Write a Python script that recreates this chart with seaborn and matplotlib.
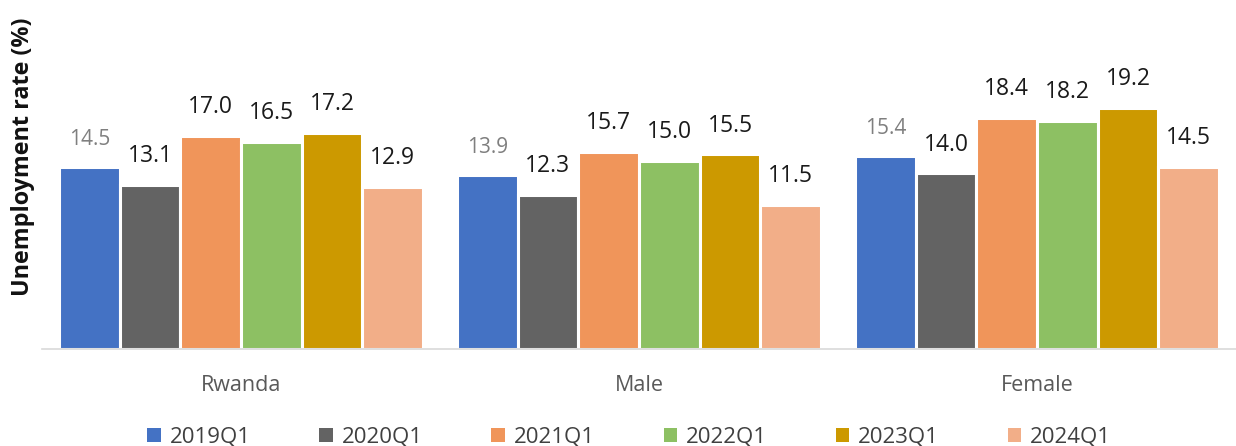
import matplotlib
matplotlib.use("Agg")
import matplotlib.pyplot as plt
import seaborn as sns
import pandas as pd
from matplotlib.patches import Patch

groups = ["Rwanda", "Male", "Female"]
quarters = ["2019Q1", "2020Q1", "2021Q1", "2022Q1", "2023Q1", "2024Q1"]
rate_2019q1 = [14.5, 13.9, 15.4]
rate_2020q1 = [13.1, 12.3, 14.0]
rate_2021q1 = [17.0, 15.7, 18.4]
rate_2022q1 = [16.5, 15.0, 18.2]
rate_2023q1 = [17.2, 15.5, 19.2]
rate_2024q1 = [12.9, 11.5, 14.5]
colors = ["#4472C4", "#636363", "#F0955A", "#8DC063", "#CC9900", "#F2AE88"]

series = [rate_2019q1, rate_2020q1, rate_2021q1, rate_2022q1, rate_2023q1, rate_2024q1]
rows = []
for q, vals in zip(quarters, series):
    for g, v in zip(groups, vals):
        rows.append({"group": g, "quarter": q, "rate": v})
df = pd.DataFrame(rows)

sns.set_theme(style="white")
plt.rcParams["font.family"] = ["Open Sans", "DejaVu Sans"]

fig = plt.figure(figsize=(12.36, 4.46), dpi=100)
ax = fig.add_axes([42 / 1236, 1 - 349 / 446, 1194 / 1236, 349 / 446])

sns.barplot(data=df, x="group", y="rate", hue="quarter", order=groups,
            hue_order=quarters, palette=colors, width=0.915, saturation=1,
            edgecolor="white", linewidth=2.2, ax=ax, legend=False)

ax.set_ylim(0, 27.8)
ax.set_xlim(-0.5, 2.5)
ax.set_xlabel("")
ax.set_ylabel("")
ax.set_yticks([])
for s in ["top", "right", "left"]:
    ax.spines[s].set_visible(False)
ax.spines["bottom"].set_color("#D9D9D9")
ax.spines["bottom"].set_linewidth(1.2)
ax.tick_params(axis="x", length=0, pad=19, labelsize=15.5, labelcolor="#595959")

for i, cont in enumerate(ax.containers):
    vals = series[i]
    col = "#7F7F7F" if i == 0 else "#1A1A1A"
    size = 15 if i == 0 else 16.5
    ax.bar_label(cont, labels=[f"{v:.1f}" for v in vals], padding=12,
                 color=col, fontsize=size)

fig.text(23 / 1236, 1 - 157 / 446, "Unemployment rate (%)", rotation=90,
         ha="center", va="center", fontsize=16.8, fontweight="bold",
         color="#111111")

handles = [Patch(facecolor=c, edgecolor="none") for c in colors]
fig.legend(handles, quarters, loc="center", bbox_to_anchor=(629 / 1236, 1 - 437 / 446),
           ncol=6, frameon=False, fontsize=16, labelcolor="#404040",
           handlelength=0.6, handleheight=0.6, handletextpad=0.4,
           columnspacing=3.1, borderpad=0)

fig.savefig("out.png", dpi=100)
